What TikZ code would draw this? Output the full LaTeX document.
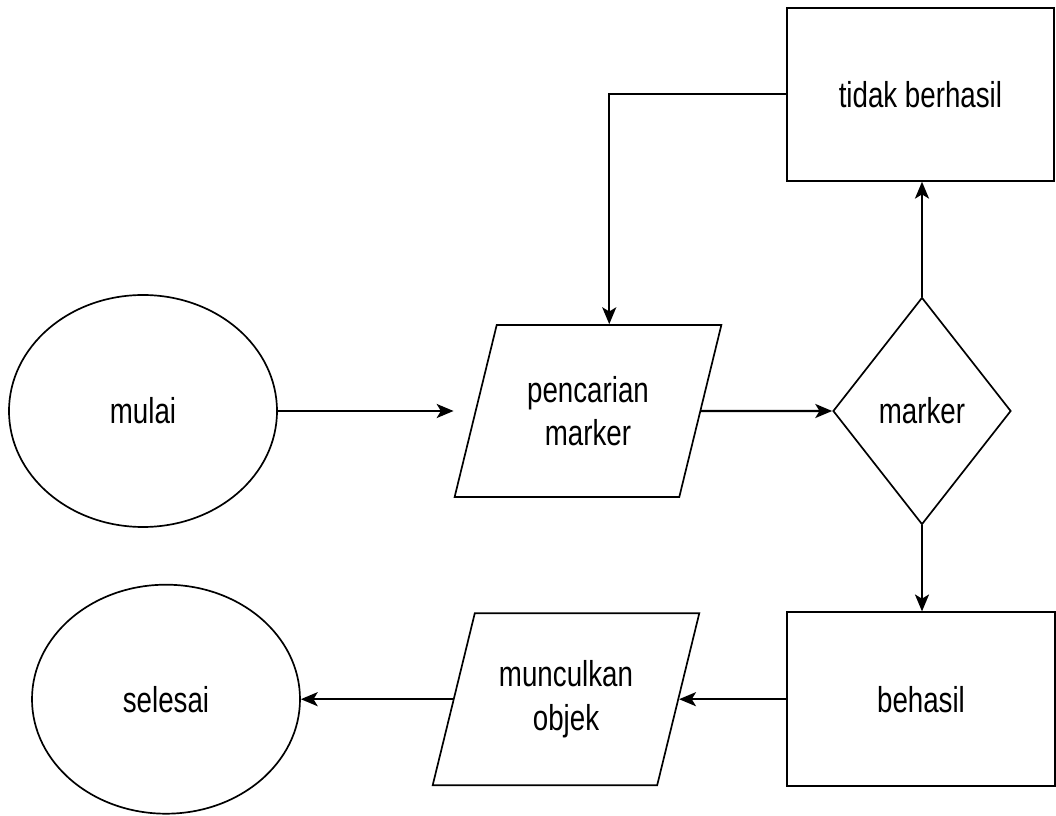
\documentclass[tikz,border=0pt]{standalone}
\usepackage{fontspec}
\setmainfont{Liberation Sans}[FakeStretch=0.77]
\usetikzlibrary{arrows.meta,shapes.geometric}

\begin{document}
\begin{tikzpicture}[>={Stealth[length=12pt,width=10pt,inset=3pt]},
    every node/.style={font=\fontsize{25.6}{30.6}\selectfont, align=center, inner sep=0pt},
    term/.style={draw, ellipse, line width=1.2pt, minimum width=6.7cm, minimum height=5.8cm},
    proc/.style={draw, rectangle, line width=1.2pt, minimum width=6.7cm, minimum height=4.35cm},
    io/.style={draw, trapezium, trapezium left angle=68, trapezium right angle=112,
      trapezium stretches=true, line width=1.2pt, minimum width=6.67cm, minimum height=4.3cm},
    keputusan/.style={draw, diamond, line width=1.2pt, minimum width=4.45cm, minimum height=5.675cm},
    panah/.style={->, line width=1.5pt}]
        \useasboundingbox (0,0) rectangle (26.4,20.4);
        \node[term] (mulai) at (3.575,10.125) {mulai};
        \node[io] (cari) at (14.7,10.125) {pencarian\\marker};
        \node[keputusan] (marker) at (23.05,10.125) {marker};
        \node[proc, minimum width=6.675cm, minimum height=4.325cm] (gagal) at (23.01,18.04) {tidak berhasil};
        \node[proc] (berhasil) at (23.025,2.92) {behasil};
        \node[io] (objek) at (14.15,2.92) {munculkan\\objek};
        \node[term, minimum height=5.725cm] (selesai) at (4.15,2.92) {selesai};
        \draw[panah] (mulai.east) -- (mulai.east -| cari.bottom left corner);
        \draw[panah] (cari.east) -- (marker.west);
        \draw[panah] (marker.north) -- (marker.north |- gagal.south);
        \draw[panah] (gagal.west) -| (cari.top side);
        \draw[panah] (marker.south) -- (marker.south |- berhasil.north);
        \draw[panah] (berhasil.west) -- (objek.right side);
        \draw[panah] (objek.left side) -- (selesai.east);
      \end{tikzpicture}
\end{document}
